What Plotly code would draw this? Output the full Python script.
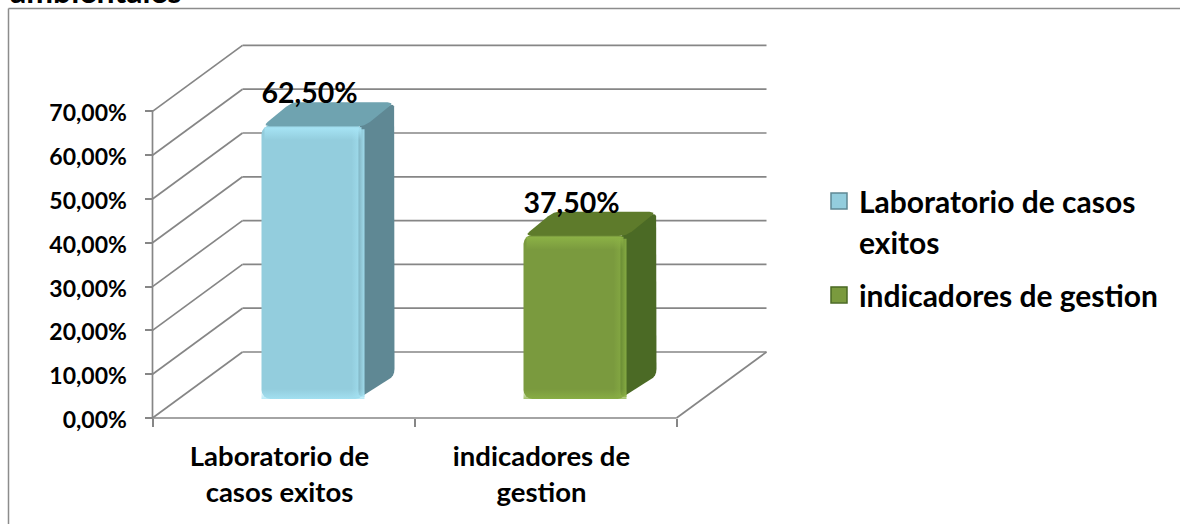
import plotly.graph_objects as go

W, H = 1180, 524
# ---- data
categories = ["Laboratorio de<br>casos exitos", "indicadores de<br>gestion"]
series_names = ["Laboratorio de casos<br>exitos", "indicadores de gestion"]
values = [0.625, 0.375]
tick_vals = [0.0, 0.1, 0.2, 0.3, 0.4, 0.5, 0.6, 0.7]
front_col = ["#93CDDD", "#7A9A3E"]
top_col = ["#6FA3B0", "#5E7B2B"]
side_col = ["#5F8894", "#4B6A25"]
hi_col = ["166,228,245", "140,178,70"]

# ---- projection
PX_X, PX_Y = 262.0, 438.0          # pixels per x unit / per 100 %
X0, Y0 = 152.5, 418.0              # pixel of the data origin
WALL_DX, WALL_DY = 90.0 / PX_X, 66.0 / PX_Y
BAR_SX, BAR_SY = 29.5 / PX_X, 19.0 / PX_Y
BAR_W = 103.0 / PX_X
BAR_DX, BAR_DY = 30.0 / PX_X, 23.0 / PX_Y
xr = [-0.05, 2.4]
yr = [-0.03, 0.88]
dom_x = [(X0 + PX_X * xr[0]) / W, (X0 + PX_X * xr[1]) / W]
dom_y = [1 - (Y0 - PX_Y * yr[0]) / H, 1 - (Y0 - PX_Y * yr[1]) / H]
FAM = "Lato"
LINE = "#868686"

fig = go.Figure()
shapes = []
def seg(x0, y0, x1, y1, w=1.7):
    shapes.append(dict(type="line", xref="x", yref="y", x0=x0, y0=y0, x1=x1, y1=y1,
                       layer="below", line=dict(color=LINE, width=w)))
n = len(categories)
for t in tick_vals:
    seg(WALL_DX, t + WALL_DY, n + WALL_DX, t + WALL_DY)
    seg(0, t, WALL_DX, t + WALL_DY)
seg(0, 0, 0, tick_vals[-1])
seg(0, 0, n, 0)
seg(n, 0, n + WALL_DX, WALL_DY)

def rounded(xs, ys, r_px):
    """Round the polygon's corners, working in pixel space."""
    pts = [(x * PX_X, y * PX_Y) for x, y in zip(xs, ys)]
    out = []
    m = len(pts)
    for k in range(m):
        p0, p1, p2 = pts[k - 1], pts[k], pts[(k + 1) % m]
        def toward(a, b):
            d = ((b[0] - a[0]) ** 2 + (b[1] - a[1]) ** 2) ** 0.5
            f = min(r_px, d / 2) / d
            return (a[0] + (b[0] - a[0]) * f, a[1] + (b[1] - a[1]) * f)
        a, c = toward(p1, p0), toward(p1, p2)
        for s in (0, 0.25, 0.5, 0.75, 1):
            qx = (1 - s) ** 2 * a[0] + 2 * s * (1 - s) * p1[0] + s ** 2 * c[0]
            qy = (1 - s) ** 2 * a[1] + 2 * s * (1 - s) * p1[1] + s ** 2 * c[1]
            out.append((qx / PX_X, qy / PX_Y))
    return [o[0] for o in out], [o[1] for o in out]

def poly(xs, ys, fill=None, grad=None):
    kw = dict(fillgradient=grad) if grad else dict(fillcolor=fill)
    fig.add_trace(go.Scatter(x=xs + xs[:1], y=ys + ys[:1], mode="lines", fill="toself",
                             line=dict(color="rgba(0,0,0,0)", width=0),
                             hoverinfo="skip", showlegend=False, **kw))

for i, v in enumerate(values):
    cx = i + 0.5 + BAR_SX
    l, r = cx - BAR_W / 2, cx + BAR_W / 2
    b, t = BAR_SY, BAR_SY + v
    # side and top faces first so that they sit under the front highlights
    sx, sy = rounded([r - 6 / PX_X, r + BAR_DX, r + BAR_DX, r - 6 / PX_X],
                     [b + 0.5 / PX_Y, b + BAR_DY, t + BAR_DY, t], 7)
    poly(sx, sy, side_col[i])
    tx, ty = rounded([l + 1 / PX_X, l + BAR_DX, r + BAR_DX, r],
                     [t - 1 / PX_Y, t + BAR_DY, t + BAR_DY, t - 1 / PX_Y], 7)
    poly(tx, ty, top_col[i])
    fig.add_trace(go.Bar(x=[cx], y=[v], base=BAR_SY, width=BAR_W, showlegend=False,
                         marker=dict(color=front_col[i], cornerradius=9, line=dict(width=0))))
    # sheen along the top and right edges of the front face
    hi = hi_col[i]
    poly([l + 3 / PX_X, r - 3 / PX_X, r - 3 / PX_X, l + 3 / PX_X],
         [t - 15 / PX_Y, t - 15 / PX_Y, t - 2 / PX_Y, t - 2 / PX_Y],
         grad=dict(type="vertical", colorscale=[[0, f"rgba({hi},0)"], [1, f"rgba({hi},1)"]]))
    poly([r - 13 / PX_X, r, r, r - 13 / PX_X],
         [b + 2 / PX_Y, b + 2 / PX_Y, t - 4 / PX_Y, t - 4 / PX_Y],
         grad=dict(type="horizontal", colorscale=[[0, f"rgba({hi},0)"], [1, f"rgba({hi},0.9)"]]))
    poly([l, r, r, l], [b, b, b + 10 / PX_Y, b + 10 / PX_Y],
         grad=dict(type="vertical", colorscale=[[0, f"rgba({hi},0.8)"], [1, f"rgba({hi},0)"]]))

# data labels
fig.add_trace(go.Scatter(
    x=[i + 0.5 + BAR_SX - 3.5 / PX_X for i in range(n)],
    y=[v + BAR_SY + 29 / PX_Y for v in values],
    mode="text", text=[f"{v*100:.2f}%".replace(".", ",") for v in values],
    textposition="middle center", cliponaxis=False, showlegend=False, hoverinfo="skip",
    textfont=dict(family=FAM, size=28.5, color="black", weight=700)))

# legend
for i, nm in enumerate(series_names):
    label = "<br>".join(f'<span style="font-size:30px">{p}</span>' for p in nm.split("<br>"))
    fig.add_trace(go.Scatter(x=[None], y=[None], mode="markers", name=label, legendgroup=f"g{i}",
                             marker=dict(symbol="square", size=18, color=front_col[i],
                                         line=dict(color=side_col[i], width=1.5))))

# frame
shapes.append(dict(type="line", xref="paper", yref="paper", x0=8.5 / W, x1=8.5 / W, y0=0, y1=1 - 8.5 / H,
                   line=dict(color="#8C8C8C", width=1.5)))
shapes.append(dict(type="line", xref="paper", yref="paper", x0=8.5 / W, x1=1, y0=1 - 8.5 / H, y1=1 - 8.5 / H,
                   line=dict(color="#8C8C8C", width=1.5)))

fig.update_layout(
    width=W, height=H, margin=dict(l=0, r=0, t=0, b=0, pad=0, autoexpand=False),
    paper_bgcolor="white", plot_bgcolor="rgba(0,0,0,0)", barmode="overlay",
    separators=",.", shapes=shapes, showlegend=True,
    xaxis=dict(domain=dom_x, range=xr, anchor="free", position=1 - Y0 / H, showgrid=False,
               zeroline=False, showline=False, tickmode="array",
               tickvals=[i + 0.5 - 4 / PX_X for i in range(n)],
               ticktext=["<br>".join(f'<span style="font-size:27.5px">{p}</span>' for p in c.split("<br>")) for c in categories],
               ticks="", ticklabelstandoff=19,
               tickfont=dict(family=FAM, size=28, color="black", weight=700),
               minor=dict(tickmode="array", tickvals=list(range(n + 1)), ticks="outside",
                          ticklen=8, tickwidth=1.7, tickcolor=LINE, showgrid=False)),
    yaxis=dict(domain=dom_y, range=yr, anchor="free", position=X0 / W, showgrid=False,
               zeroline=False, showline=False, tickmode="array", tickvals=tick_vals,
               tickformat=".2%", ticks="outside", ticklen=8, tickwidth=1.7, tickcolor=LINE,
               ticklabelstandoff=13, ticklabelshift=2,
               tickfont=dict(family=FAM, size=23, color="black", weight=700)),
    legend=dict(x=819 / W, y=1 - 174 / H, xanchor="left", yanchor="top", bgcolor="rgba(0,0,0,0)",
                font=dict(family=FAM, size=31.5, color="black", weight=700), valign="top",
                tracegroupgap=9, itemclick=False, itemdoubleclick=False),
    annotations=[dict(text="ambientales", xref="paper", yref="paper", x=8 / W, y=1 - 12 / H,
                      xanchor="left", yanchor="bottom", showarrow=False,
                      font=dict(family=FAM, size=32, color="black", weight=700))],
)
fig.write_html("out.html", config=dict(displayModeBar=False),
               post_script="document.body.style.margin='0';document.body.style.overflow='hidden';")
